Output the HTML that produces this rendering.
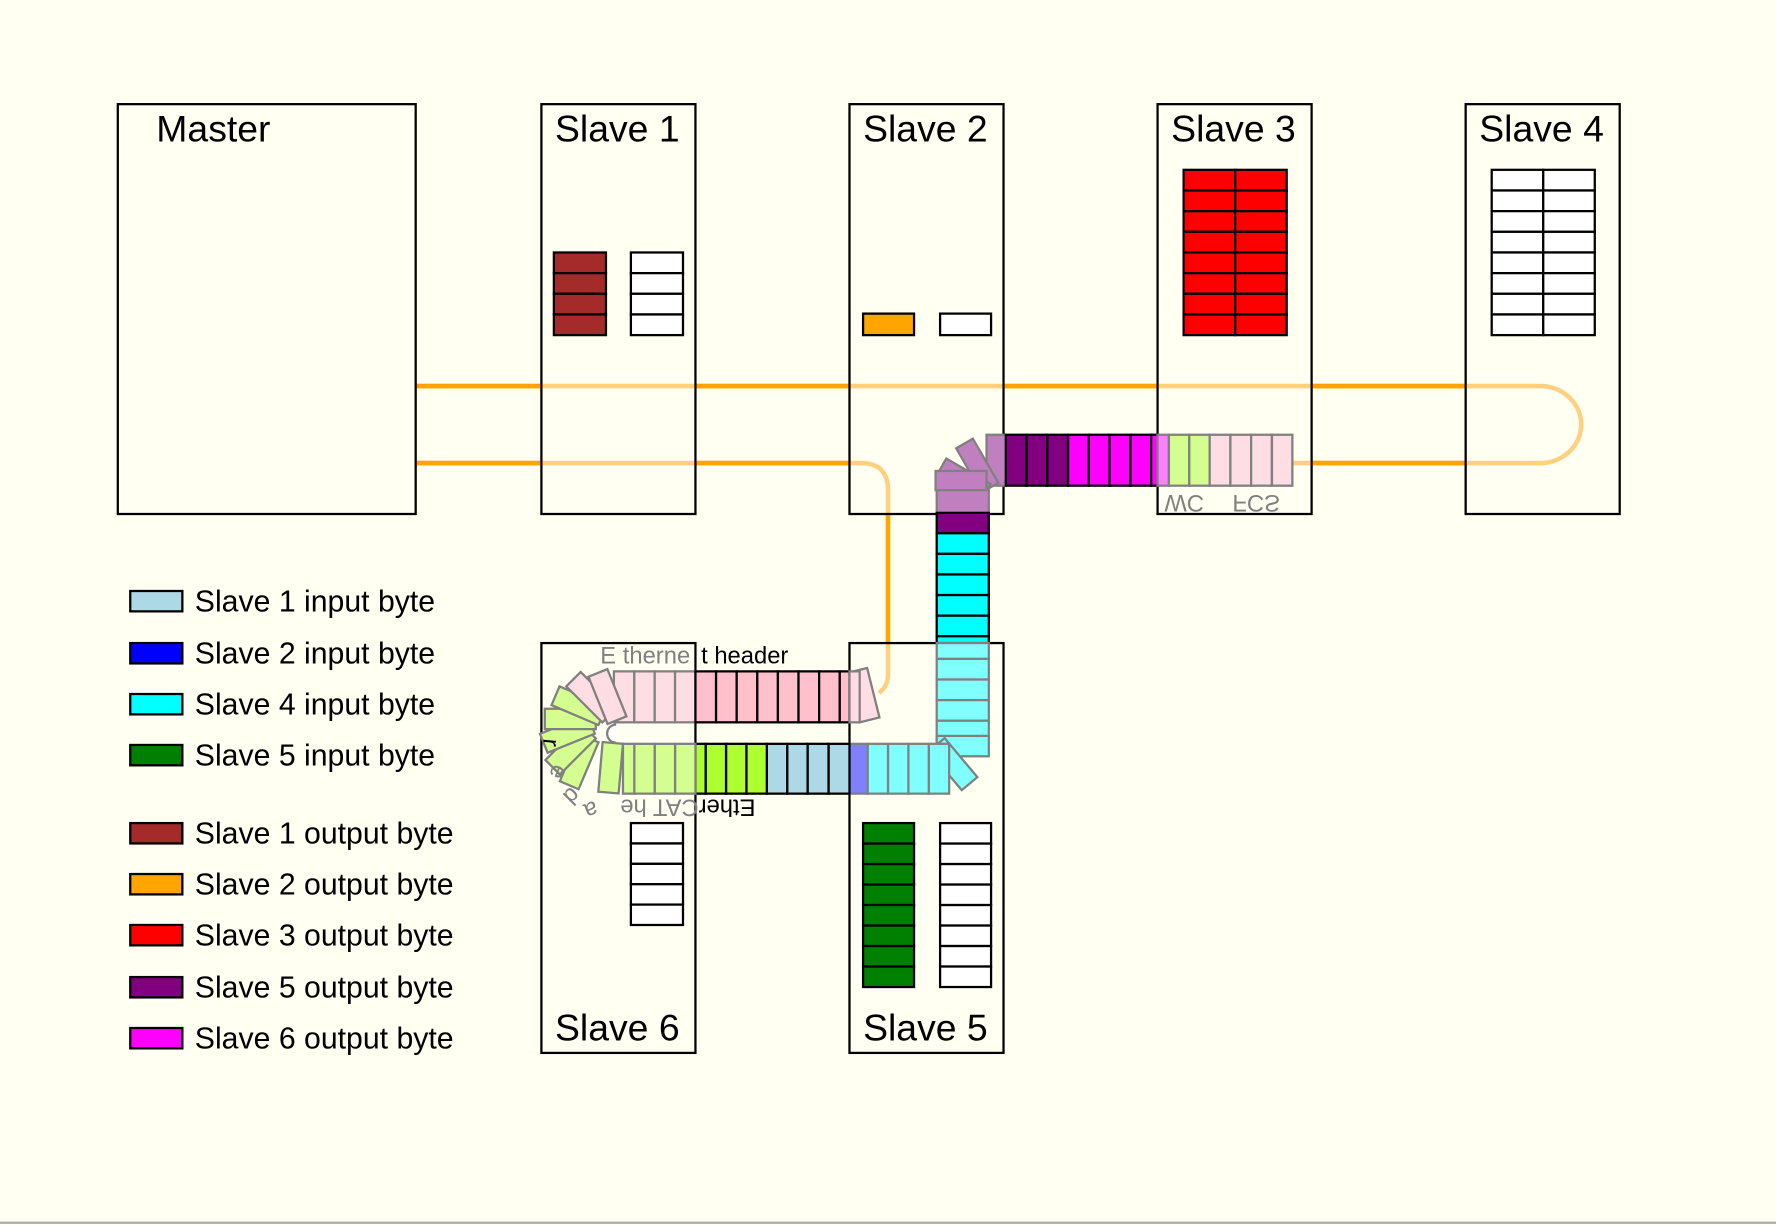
<!DOCTYPE html>
<html><head><meta charset="utf-8"><style>
html,body{margin:0;padding:0;background:#fffff2;}
svg{display:block}
text{font-family:"Liberation Sans",sans-serif}
</style></head><body>
<svg width="1776" height="1225" viewBox="0 0 1568 1082" preserveAspectRatio="none" xmlns="http://www.w3.org/2000/svg">
<rect x="0" y="0" width="1568" height="1082" fill="#fffff2"/>
<line x1="0" y1="1080" x2="1568" y2="1080" stroke="#aaa" stroke-width="2"/>

<g fill="none" stroke-width="4">
 <path d="M367 341H1360A36 34 0 0 1 1360 409H1142" stroke="#ffd080"/>
 <path d="M367 341H478M614 341H750M886 341H1022M1158 341H1294M1158 409H1294" stroke="#ffa500"/>
 <path d="M367 409H760Q784 409 784 433V596Q784 606 776 612" stroke="#ffd080"/>
 <path d="M367 409H478M614 409H750M784 454V568" stroke="#ffa500"/>
</g>

<g fill="none" stroke="#000" stroke-width="2">
 <rect x="104" y="92" width="263" height="362"/>
 <rect x="478" y="92" width="136" height="362"/>
 <rect x="750" y="92" width="136" height="362"/>
 <rect x="1022" y="92" width="136" height="362"/>
 <rect x="1294" y="92" width="136" height="362"/>
 <rect x="478" y="568" width="136" height="362"/>
 <rect x="750" y="568" width="136" height="362"/>
</g>
<g font-size="33" fill="#000">
 <text x="138" y="125">Master</text>
 <text x="490" y="125">Slave 1</text>
 <text x="762" y="125">Slave 2</text>
 <text x="1034" y="125">Slave 3</text>
 <text x="1306" y="125">Slave 4</text>
 <text x="490" y="919">Slave 6</text>
 <text x="762" y="919">Slave 5</text>
</g>

<g stroke="#000" stroke-width="2">
 <g fill="#a52a2a"><rect x="489" y="223" width="46" height="18.25"/><rect x="489" y="241.25" width="46" height="18.25"/><rect x="489" y="259.5" width="46" height="18.25"/><rect x="489" y="277.75" width="46" height="18.25"/></g>
 <g fill="#fff"><rect x="557" y="223" width="46" height="18.25"/><rect x="557" y="241.25" width="46" height="18.25"/><rect x="557" y="259.5" width="46" height="18.25"/><rect x="557" y="277.75" width="46" height="18.25"/></g>
 <rect x="762" y="277" width="45" height="19" fill="#ffa500"/>
 <rect x="830" y="277" width="45" height="19" fill="#fff"/>
 <g fill="#ff0000">
  <rect x="1045" y="150" width="45.5" height="18.25"/><rect x="1045" y="168.25" width="45.5" height="18.25"/><rect x="1045" y="186.5" width="45.5" height="18.25"/><rect x="1045" y="204.75" width="45.5" height="18.25"/><rect x="1045" y="223" width="45.5" height="18.25"/><rect x="1045" y="241.25" width="45.5" height="18.25"/><rect x="1045" y="259.5" width="45.5" height="18.25"/><rect x="1045" y="277.75" width="45.5" height="18.25"/>
  <rect x="1090.5" y="150" width="45.5" height="18.25"/><rect x="1090.5" y="168.25" width="45.5" height="18.25"/><rect x="1090.5" y="186.5" width="45.5" height="18.25"/><rect x="1090.5" y="204.75" width="45.5" height="18.25"/><rect x="1090.5" y="223" width="45.5" height="18.25"/><rect x="1090.5" y="241.25" width="45.5" height="18.25"/><rect x="1090.5" y="259.5" width="45.5" height="18.25"/><rect x="1090.5" y="277.75" width="45.5" height="18.25"/>
 </g>
 <g fill="#fff">
  <rect x="1317" y="150" width="45.5" height="18.25"/><rect x="1317" y="168.25" width="45.5" height="18.25"/><rect x="1317" y="186.5" width="45.5" height="18.25"/><rect x="1317" y="204.75" width="45.5" height="18.25"/><rect x="1317" y="223" width="45.5" height="18.25"/><rect x="1317" y="241.25" width="45.5" height="18.25"/><rect x="1317" y="259.5" width="45.5" height="18.25"/><rect x="1317" y="277.75" width="45.5" height="18.25"/>
  <rect x="1362.5" y="150" width="45.5" height="18.25"/><rect x="1362.5" y="168.25" width="45.5" height="18.25"/><rect x="1362.5" y="186.5" width="45.5" height="18.25"/><rect x="1362.5" y="204.75" width="45.5" height="18.25"/><rect x="1362.5" y="223" width="45.5" height="18.25"/><rect x="1362.5" y="241.25" width="45.5" height="18.25"/><rect x="1362.5" y="259.5" width="45.5" height="18.25"/><rect x="1362.5" y="277.75" width="45.5" height="18.25"/>
 </g>
 <g fill="#008000">
  <rect x="762" y="727" width="45" height="18.1"/><rect x="762" y="745.1" width="45" height="18.1"/><rect x="762" y="763.2" width="45" height="18.1"/><rect x="762" y="781.3" width="45" height="18.1"/><rect x="762" y="799.4" width="45" height="18.1"/><rect x="762" y="817.5" width="45" height="18.1"/><rect x="762" y="835.6" width="45" height="18.1"/><rect x="762" y="853.7" width="45" height="18.1"/>
 </g>
 <g fill="#fff">
  <rect x="830" y="727" width="45" height="18.1"/><rect x="830" y="745.1" width="45" height="18.1"/><rect x="830" y="763.2" width="45" height="18.1"/><rect x="830" y="781.3" width="45" height="18.1"/><rect x="830" y="799.4" width="45" height="18.1"/><rect x="830" y="817.5" width="45" height="18.1"/><rect x="830" y="835.6" width="45" height="18.1"/><rect x="830" y="853.7" width="45" height="18.1"/>
  <rect x="557" y="727" width="46" height="18"/><rect x="557" y="745" width="46" height="18"/><rect x="557" y="763" width="46" height="18"/><rect x="557" y="781" width="46" height="18"/><rect x="557" y="799" width="46" height="18"/>
 </g>
</g>

<g stroke-width="2">
 <rect x="871" y="384" width="17" height="45" fill="#c080c0" stroke="#808080"/>
 <g stroke="#000"><rect x="888" y="384" width="18.3" height="45" fill="#800080"/><rect x="906.3" y="384" width="18.3" height="45" fill="#800080"/><rect x="924.6" y="384" width="18.3" height="45" fill="#800080"/>
 <rect x="943" y="384" width="18.3" height="45" fill="#ff00ff"/><rect x="961.3" y="384" width="18.3" height="45" fill="#ff00ff"/><rect x="979.6" y="384" width="18.3" height="45" fill="#ff00ff"/><rect x="998" y="384" width="18.3" height="45" fill="#ff00ff"/><rect x="1016.3" y="384" width="6" height="45" fill="#ff00ff"/></g>
 <g stroke="#808080"><rect x="1022" y="384" width="10" height="45" fill="#ff80ff"/>
 <rect x="1032" y="384" width="18" height="45" fill="#d4ff90"/><rect x="1050" y="384" width="18" height="45" fill="#d4ff90"/>
 <rect x="1068" y="384" width="18.3" height="45" fill="#ffdde4"/><rect x="1086.3" y="384" width="18.3" height="45" fill="#ffdde4"/><rect x="1104.6" y="384" width="18.3" height="45" fill="#ffdde4"/><rect x="1123" y="384" width="18" height="45" fill="#ffdde4"/></g>
 <g fill="#c080c0" stroke="#808080">
  <rect x="871" y="384" width="17" height="45" transform="rotate(-30 880 440)"/>
  <rect x="871" y="384" width="17" height="45" transform="rotate(-60 880 440)"/>
  <rect x="871" y="384" width="17" height="45" transform="rotate(-90 873 431)"/>
 </g>
 <rect x="827" y="433" width="46" height="20" fill="#c080c0" stroke="#808080"/>
 <g stroke="#000"><rect x="827" y="453" width="46" height="18" fill="#800080"/>
 <rect x="827" y="471" width="46" height="18.2" fill="#00ffff"/><rect x="827" y="489.2" width="46" height="18.2" fill="#00ffff"/><rect x="827" y="507.4" width="46" height="18.2" fill="#00ffff"/><rect x="827" y="525.6" width="46" height="18.2" fill="#00ffff"/><rect x="827" y="543.8" width="46" height="18.2" fill="#00ffff"/><rect x="827" y="562" width="46" height="6" fill="#00ffff"/></g>
 <g stroke="#808080" fill="#80ffff">
  <rect x="827" y="568" width="46" height="14" /><rect x="827" y="582" width="46" height="18.2"/><rect x="827" y="600.2" width="46" height="18.2"/><rect x="827" y="618.4" width="46" height="18.2"/><rect x="827" y="636.6" width="46" height="18.2"/><rect x="827" y="650" width="46" height="18"/>
  <rect x="820" y="657" width="18" height="45" transform="rotate(-40 829 660)"/>
  <rect x="820" y="657" width="18" height="44"/><rect x="802" y="657" width="18" height="44"/><rect x="784" y="657" width="18" height="44"/><rect x="766" y="657" width="18" height="44"/>
 </g>
 <rect x="750" y="657" width="16" height="44" fill="#8080ff" stroke="#808080"/>
 <g stroke="#000">
  <rect x="731.5" y="657" width="18.5" height="44" fill="#add8e6"/><rect x="713" y="657" width="18.5" height="44" fill="#add8e6"/><rect x="695" y="657" width="18" height="44" fill="#add8e6"/><rect x="677" y="657" width="18" height="44" fill="#add8e6"/>
  <rect x="659" y="657" width="18" height="44" fill="#adff2f"/><rect x="641" y="657" width="18" height="44" fill="#adff2f"/><rect x="623" y="657" width="18" height="44" fill="#adff2f"/><rect x="614" y="657" width="9" height="44" fill="#adff2f"/>
 </g>
 <g stroke="#808080" fill="#d4ff90">
  <rect x="596" y="657" width="18" height="44"/><rect x="578" y="657" width="18" height="44"/><rect x="560" y="657" width="18" height="44"/><rect x="550" y="657" width="10" height="44"/>
 </g>
 <g stroke="#808080" fill="#ffdde4">
  <rect x="542" y="593" width="18" height="45"/><rect x="560" y="593" width="18" height="45"/><rect x="578" y="593" width="18" height="45"/><rect x="596" y="593" width="18" height="45"/>
  <rect x="759" y="593" width="18" height="45" transform="rotate(-14 759 638)"/>
 </g>
 <g stroke="#000" fill="#ffc0cb">
  <rect x="614" y="593" width="18.2" height="45"/><rect x="632.2" y="593" width="18.2" height="45"/><rect x="650.4" y="593" width="18.2" height="45"/><rect x="668.6" y="593" width="18.2" height="45"/><rect x="686.8" y="593" width="18.2" height="45"/><rect x="705" y="593" width="18.2" height="45"/><rect x="723.2" y="593" width="18.2" height="45"/><rect x="741.4" y="593" width="8.6" height="45"/>
 </g>
 <rect x="750" y="593" width="9" height="45" fill="#ffdde4" stroke="#808080"/>
 <g stroke="#808080">
  <rect x="540" y="593" width="18" height="45" fill="#d4ff90" transform="rotate(-157 536 648)"/>
  <rect x="540" y="593" width="18" height="45" fill="#d4ff90" transform="rotate(-135 536 648)"/>
  <rect x="540" y="593" width="18" height="45" fill="#d4ff90" transform="rotate(-112 536 648)"/>
  <rect x="540" y="593" width="18" height="45" fill="#d4ff90" transform="rotate(-90 536 648)"/>
  <rect x="540" y="593" width="18" height="45" fill="#d4ff90" transform="rotate(-67 536 648)"/>
  <rect x="540" y="593" width="18" height="45" fill="#ffdde4" transform="rotate(-45 536 648)"/>
  <rect x="540" y="593" width="18" height="45" fill="#ffdde4" transform="rotate(-22 542 648)"/>
  <rect x="532" y="657" width="18" height="44" fill="#d4ff90" transform="rotate(5 550 657)"/>
 </g>
 <path d="M544 640A8 8 0 0 0 544 656" fill="#fff" stroke="#808080"/>
</g>

<text x="530" y="586" font-size="21" fill="#808080">E therne</text>
<text x="619" y="586" font-size="21" fill="#000">t header</text>
<g font-size="21">
 <text transform="translate(667,706) rotate(180)"><tspan fill="#000">Ether</tspan><tspan fill="#808080">CAT he</tspan></text>
 <text transform="translate(525,707) rotate(160)" fill="#808080">a</text>
 <text transform="translate(504,694) rotate(135)" fill="#808080">d</text>
 <text transform="translate(489,674) rotate(112)" fill="#808080">e</text>
 <text transform="translate(480,652) rotate(95)" fill="#000">r</text>
</g>
<g font-size="21" fill="#808080">
 <text transform="translate(0,437) scale(1,-1)" x="1028" y="0">WC</text>
 <text transform="translate(0,437) scale(1,-1)" x="1088" y="0">FCS</text>
</g>

<g stroke="#000" stroke-width="2">
 <rect x="115" y="522" width="46" height="18" fill="#add8e6"/>
 <rect x="115" y="568" width="46" height="18" fill="#0000ff"/>
 <rect x="115" y="613" width="46" height="18" fill="#00ffff"/>
 <rect x="115" y="658" width="46" height="18" fill="#008000"/>
 <rect x="115" y="727" width="46" height="18" fill="#a52a2a"/>
 <rect x="115" y="772" width="46" height="18" fill="#ffa500"/>
 <rect x="115" y="817" width="46" height="18" fill="#ff0000"/>
 <rect x="115" y="863" width="46" height="18" fill="#800080"/>
 <rect x="115" y="908" width="46" height="18" fill="#ff00ff"/>
</g>
<g font-size="26.7" fill="#000">
 <text x="172" y="540">Slave 1 input byte</text>
 <text x="172" y="586">Slave 2 input byte</text>
 <text x="172" y="631">Slave 4 input byte</text>
 <text x="172" y="676">Slave 5 input byte</text>
 <text x="172" y="745">Slave 1 output byte</text>
 <text x="172" y="790">Slave 2 output byte</text>
 <text x="172" y="835">Slave 3 output byte</text>
 <text x="172" y="881">Slave 5 output byte</text>
 <text x="172" y="926">Slave 6 output byte</text>
</g>
</svg>
</body></html>
